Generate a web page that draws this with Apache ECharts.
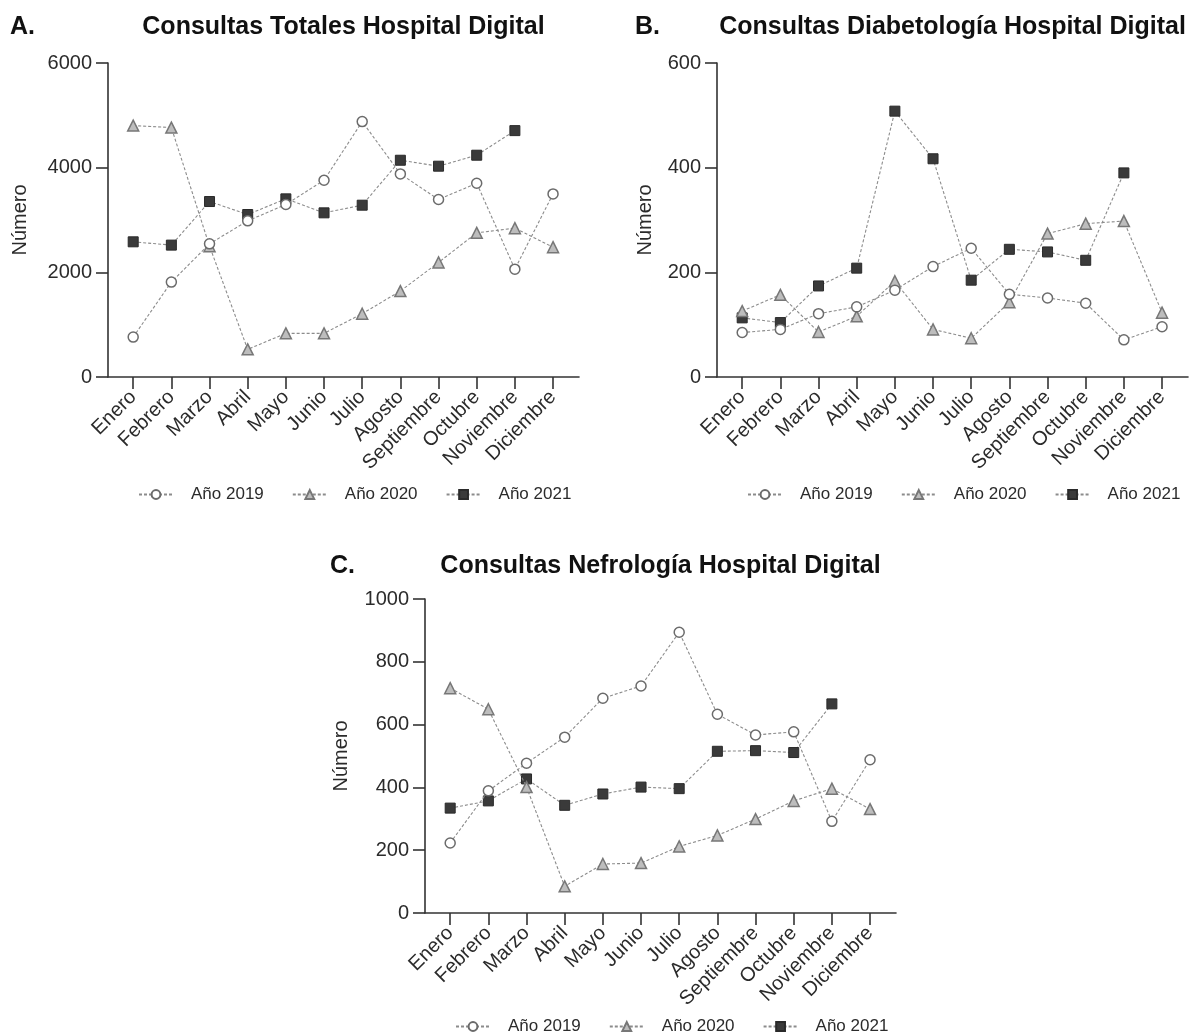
<!DOCTYPE html>
<html>
<head>
<meta charset="utf-8">
<script src="https://cdn.jsdelivr.net/npm/echarts@6/dist/echarts.min.js"></script>
<style>
  html, body { margin: 0; padding: 0; background: #ffffff; }
  #chart { width: 1189px; height: 1036px; }
</style>
</head>
<body>
<div id="chart"></div>
<script>
// Month categories shared by the three panels
const months = ['Enero', 'Febrero', 'Marzo', 'Abril', 'Mayo', 'Junio', 'Julio',
                'Agosto', 'Septiembre', 'Octubre', 'Noviembre', 'Diciembre'];
const years = ['Año 2019', 'Año 2020', 'Año 2021'];

// A. Consultas totales
const totales2019 = [763, 1813, 2545, 2984, 3296, 3760, 4880, 3881, 3391, 3703, 2061, 3499];
const totales2020 = [4804, 4766, 2500, 528, 834, 834, 1209, 1642, 2189, 2755, 2844, 2481];
const totales2021 = [2583, 2520, 3353, 3105, 3404, 3137, 3283, 4142, 4028, 4238, 4708, null];

// B. Consultas diabetología
const diabeto2019 = [85, 91, 121, 134, 166, 211, 246, 158, 151, 141, 71, 96];
const diabeto2020 = [126, 157, 86, 116, 183, 91, 74, 143, 274, 293, 298, 123];
const diabeto2021 = [113, 104, 174, 208, 508, 417, 185, 244, 239, 223, 390, null];

// C. Consultas nefrología
const nefro2019 = [223, 389, 477, 560, 684, 723, 894, 633, 567, 577, 292, 488];
const nefro2020 = [716, 649, 401, 85, 156, 159, 212, 247, 299, 357, 396, 331];
const nefro2021 = [334, 357, 427, 343, 379, 401, 396, 515, 517, 511, 666, null];

// Y-axis ranges per panel
const yMax = [6000, 600, 1000];
const yStep = [2000, 200, 200];

const panelTitles = ['Consultas Totales Hospital Digital',
                     'Consultas Diabetología Hospital Digital',
                     'Consultas Nefrología Hospital Digital'];
const panelLetters = ['A.', 'B.', 'C.'];
const panelData = [
  [totales2019, totales2020, totales2021],
  [diabeto2019, diabeto2020, diabeto2021],
  [nefro2019, nefro2020, nefro2021]
];

// Layout of each panel (plot box in pixels)
const boxes = [
  { left: 108, top: 63, width: 471, height: 314, nameGap: 78, letterX: 10, legendX: 138, legendY: 486, titleY: 15 },
  { left: 717, top: 63, width: 471, height: 314, nameGap: 62, letterX: 635, legendX: 747, legendY: 486, titleY: 15 },
  { left: 425, top: 599, width: 471, height: 314, nameGap: 74, letterX: 330, legendX: 455, legendY: 1018, titleY: 554 }
];

const FONT = '"Liberation Sans", Arial, Helvetica, sans-serif';
const AXIS_COLOR = '#333333';
const TEXT_COLOR = '#2b2b2b';
const tickPositions = months.map((m, i) => i);

const yearStyles = [
  { symbol: 'circle', symbolSize: 10, z: 4,
    itemStyle: { color: '#ffffff', borderColor: '#6b6b6b', borderWidth: 1.5 } },
  { symbol: 'triangle', symbolSize: 11, z: 3,
    itemStyle: { color: '#bdbdbd', borderColor: '#777777', borderWidth: 1.5 } },
  { symbol: 'rect', symbolSize: 10, z: 2,
    itemStyle: { color: '#3a3a3a', borderColor: '#2a2a2a', borderWidth: 1 } }
];

const grid = [], xAxis = [], yAxis = [], series = [], title = [], legend = [];

boxes.forEach((b, p) => {
  grid.push({ left: b.left, top: b.top, width: b.width, height: b.height, containLabel: false });

  xAxis.push({
    type: 'value', gridIndex: p, min: -0.66, max: 11.68,
    splitLine: { show: false },
    axisLine: { show: true, onZero: false, lineStyle: { color: AXIS_COLOR, width: 1.6 } },
    axisTick: { show: true, customValues: tickPositions, length: 12,
                lineStyle: { color: AXIS_COLOR, width: 1.6 } },
    axisLabel: { customValues: tickPositions, formatter: v => months[v] || '',
                 rotate: 45, fontSize: 20, color: TEXT_COLOR, fontFamily: FONT, margin: 17 }
  });

  yAxis.push({
    type: 'value', gridIndex: p, min: 0, max: yMax[p], interval: yStep[p],
    splitLine: { show: false },
    axisLine: { show: true, onZero: false, lineStyle: { color: AXIS_COLOR, width: 1.6 } },
    axisTick: { show: true, length: 12, lineStyle: { color: AXIS_COLOR, width: 1.6 } },
    axisLabel: { fontSize: 20, color: TEXT_COLOR, fontFamily: FONT, margin: 16,
                 formatter: v => String(v) },
    name: 'Número', nameLocation: 'middle', nameGap: b.nameGap, nameMoveOverlap: false,
    nameTextStyle: { fontSize: 20, color: TEXT_COLOR, fontFamily: FONT }
  });

  panelData[p].forEach((vals, k) => {
    const st = yearStyles[k];
    series.push({
      type: 'line', name: years[k], xAxisIndex: p, yAxisIndex: p,
      data: vals.map((v, i) => [i, v]).filter(d => d[1] !== null),
      symbol: st.symbol, symbolSize: st.symbolSize, z: st.z,
      itemStyle: st.itemStyle,
      lineStyle: { color: '#8c8c8c', width: 1.1, type: [3, 2] },
      emphasis: { disabled: true }
    });
  });

  title.push({
    text: panelTitles[p], left: b.left + b.width / 2, top: b.titleY, textAlign: 'center', padding: 0,
    textStyle: { fontSize: 25, fontWeight: 'bold', color: '#111111', fontFamily: FONT }
  });
  title.push({
    text: panelLetters[p], left: b.letterX, top: b.titleY, padding: 0,
    textStyle: { fontSize: 25, fontWeight: 'bold', color: '#111111', fontFamily: FONT }
  });

  legend.push({
    data: years, left: b.legendX, top: b.legendY, orient: 'horizontal',
    itemWidth: 34, itemHeight: 11, itemGap: 28, selectedMode: false, padding: 0,
    textStyle: { fontSize: 17, color: TEXT_COLOR, fontFamily: FONT, padding: [0, 0, 0, 13] }
  });
});

const chart = echarts.init(document.getElementById('chart'), null, { renderer: 'canvas' });
chart.setOption({
  animation: false,
  backgroundColor: '#ffffff',
  title, legend, grid, xAxis, yAxis, series
});
</script>
</body>
</html>
